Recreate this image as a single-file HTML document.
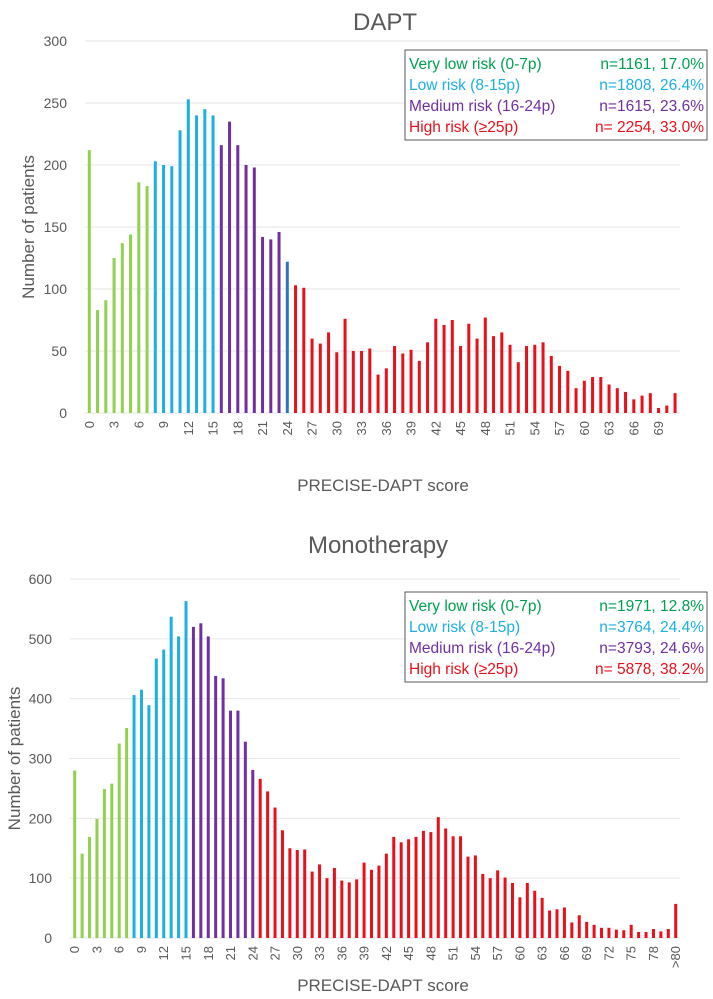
<!DOCTYPE html>
<html><head><meta charset="utf-8">
<style>
html,body{margin:0;padding:0;background:#fff;}
svg{display:block;font-family:"Liberation Sans",sans-serif;}
</style></head>
<body>
<svg id="svg" width="713" height="999" viewBox="0 0 713 999"></svg>
<script>
const daptValues=[212,83,91,125,137,144,186,183,203,200,199,228,253,240,245,240,216,235,216,200,198,142,140,146,122,103,101,60,56,65,49,76,50,50,52,31,36,54,48,51,42,57,76,71,75,54,72,60,77,62,65,55,41,54,55,57,46,38,34,20,26,29,29,23,20,17,11,14,16,4,6,16];
const daptTicks=[0,50,100,150,200,250,300];
const monoValues=[280,141,169,199,249,258,325,351,406,415,389,467,482,537,504,563,520,526,504,438,434,380,380,328,281,266,245,218,180,150,147,148,111,123,100,117,96,93,98,126,114,121,141,169,160,165,169,179,177,202,183,170,170,136,138,107,100,113,101,92,68,92,79,67,46,48,51,26,38,27,22,17,17,14,13,22,10,10,15,11,15,57];
const monoTicks=[0,100,200,300,400,500,600];
const daptLegend=[["Very low risk (0-7p)","n=1161,  17.0%"],["Low risk (8-15p)","n=1808,  26.4%"],["Medium risk (16-24p)","n=1615,  23.6%"],["High risk (≥25p)","n= 2254, 33.0%"]];
const monoLegend=[["Very low risk (0-7p)","n=1971,  12.8%"],["Low risk (8-15p)","n=3764,  24.4%"],["Medium risk (16-24p)","n=3793,  24.6%"],["High risk (≥25p)","n= 5878, 38.2%"]];
const COLORS=["#00a050","#1cb0e0","#7030a0","#e8101a"];
const BAR=["#92d050","#1cb0e0","#7030a0","#e8101a"];
const NS="http://www.w3.org/2000/svg";
const svg=document.getElementById('svg');
function mk(tag,attrs,parent){const e=document.createElementNS(NS,tag);for(const k in attrs)e.setAttribute(k,attrs[k]);(parent||svg).appendChild(e);return e;}
function cat(i){return i<=7?0:i<=15?1:i<=24?2:3;}
function chart(cfg){
  const g=mk('g',{});
  
  
  const ymax=cfg.ticks[cfg.ticks.length-1];
  const y=v=>cfg.y0-(v/ymax)*(cfg.y0-cfg.ytop);
  const x=i=>cfg.x0+i*cfg.dx;
  cfg.ticks.forEach(t=>{
    const l=mk('line',{x1:cfg.gx0,x2:cfg.gx1,y1:y(t),y2:y(t),stroke:'#e6e6e6','stroke-width':1},g);
    
    
    const tx=mk('text',{x:cfg.gx0-18,y:y(t)+5,'text-anchor':'end','font-size':14,fill:'#595959'},g);
    tx.textContent=t;
    
    
  });
  cfg.values.forEach((v,i)=>{
    let c=BAR[cat(i)];
    if(cfg.blue24&&i===24)c='#2e75b6';
    const r=mk('rect',{x:x(i)-1.5,y:y(v),width:3,height:y(0)-y(v),fill:c},g);
    
    
  });
  cfg.values.forEach((v,i)=>{
    const isLast=cfg.last&&i===cfg.values.length-1;
    if(i%3!==0&&!isLast)return;
    let lab=isLast?cfg.last:String(i);
    const tx=mk('text',{x:0,y:0,'text-anchor':'end','font-size':13,fill:'#595959',transform:`translate(${x(i)+4.5},${cfg.y0+8}) rotate(-90)`},g);
    tx.textContent=lab;
    
    
  });
  const t=mk('text',{x:cfg.titleX,y:cfg.titleY,'text-anchor':'middle','font-size':24,fill:'#595959'},g);
  t.textContent=cfg.title;
  
  
  const xl=mk('text',{x:383,y:cfg.xlabY,'text-anchor':'middle','font-size':17,fill:'#595959'},g);
  xl.textContent='PRECISE-DAPT score';
  
  
  const yl=mk('text',{x:0,y:0,'text-anchor':'middle','font-size':17,fill:'#595959',transform:`translate(${cfg.ylabX},${(cfg.y0+cfg.ytop)/2}) rotate(-90)`},g);
  yl.textContent='Number of patients';
  
  
  const lg=mk('g',{},g);
  
  
  const b=mk('rect',{x:405,y:cfg.legY,width:302,height:90,fill:'#fff',stroke:'#595959','stroke-width':1},lg);
  
  
  cfg.legend.forEach((row,k)=>{
    const a=mk('text',{x:409,y:cfg.legY+19+k*21,'font-size':15.5,fill:COLORS[k]},lg);
    a.textContent=row[0];
    
    
    const c=mk('text',{x:704,y:cfg.legY+19+k*21,'font-size':15.5,fill:COLORS[k],'text-anchor':'end'},lg);
    c.textContent=row[1];
    
    
  });
}
chart({name:'dapt-chart',values:daptValues,ticks:daptTicks,y0:413,ytop:41,x0:89.3,dx:8.25,gx0:85,gx1:680,blue24:true,title:'DAPT',titleX:385,titleY:30,xlabY:491,ylabX:34,legend:daptLegend,legY:50});
chart({name:'monotherapy-chart',values:monoValues,ticks:monoTicks,y0:938,ytop:579,x0:74.7,dx:7.42,gx0:70,gx1:680,blue24:false,last:'>80',title:'Monotherapy',titleX:378,titleY:553,xlabY:991,ylabX:20,legend:monoLegend,legY:592});
</script>
</body></html>
